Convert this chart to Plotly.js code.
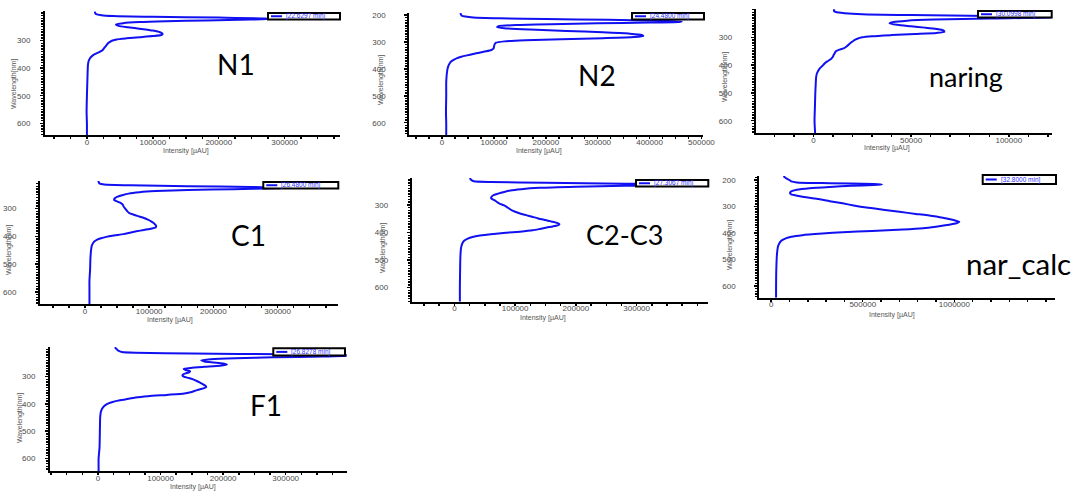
<!DOCTYPE html>
<html>
<head>
<meta charset="utf-8">
<script src="https://cdn.plot.ly/plotly-3.0.1.min.js"></script>
<style>html,body{margin:0;padding:0;background:#fff;}#chart{width:1074px;height:491px;}</style>
</head>
<body>
<div id="chart"></div>
<script>
// ---------------- DATA (wavelength [nm] vs intensity [µAU]) ----------------
const panelNames = ["N1", "N2", "naring", "C1", "C2-C3", "nar_calc", "F1"];
const legendLabels = ["[22.6297 min]", "[24.4800 min]", "[30.0998 min]", "[26.4800 min]", "[27.3067 min]", "[32.8000 min]", "[26.8278 min]"];

const wl_N1  = [195,200,204,208,211,214,217,220,222,224,227,230,233,237,242,247,252,258,264,270,276,280,284,288,292,296,300,305,310,316,322,328,334,340,346,352,358,365,375,390,420,460,500,560,600,643];
const int_N1 = [12000,12500,14000,22000,40000,100000,200000,270000,277000,250000,180000,120000,80000,55000,44000,48000,62000,82000,100000,111000,115000,113000,100000,80000,60000,45000,39000,35000,32000,30000,28000,26000,24000,20000,15000,10000,7000,4500,2500,1500,1000,500,0,-500,0,0];

const wl_N2  = [193,200,203,206,209,212,215,218,221,224,226,228,231,234,237,241,245,249,254,259,264,269,274,278,282,286,290,294,298,303,310,318,325,330,335,340,345,350,355,360,366,372,380,390,400,420,450,500,560,600,646];
const int_N2 = [35000,37000,38000,45000,60000,110000,200000,320000,420000,462000,455000,400000,300000,210000,150000,110000,106000,120000,170000,240000,310000,360000,385000,388000,370000,310000,230000,160000,120000,104000,101000,100000,99000,95000,85000,72000,60000,48000,37000,29000,23000,18000,14500,12000,10500,9000,8000,8000,7500,8000,8000];

const wl_naring  = [199,205,209,213,217,220,223,226,229,232,236,240,245,250,255,260,265,270,275,280,284,288,292,296,300,305,310,315,320,327,333,340,345,350,356,362,370,378,385,392,400,410,420,430,445,470,500,550,600,645];
const int_naring = [10800,10500,11500,16000,25000,50000,90000,125000,120000,90000,62000,48000,41000,39000,43000,50000,57000,63000,66500,67000,63000,52000,40000,30000,25000,22500,21000,20000,19000,18000,17000,15500,13000,11500,11000,10500,10000,9000,7500,6000,5000,3500,2500,1800,1400,1200,1000,800,600,900];

const wl_C1  = [200,205,210,213,216,219,222,225,227,230,233,237,241,246,252,258,264,269,274,280,286,292,298,304,310,316,322,328,334,340,346,352,358,364,368,372,377,382,387,392,397,402,407,412,418,425,435,450,480,520,560,600,645];
const int_C1 = [21000,21500,23000,30000,70000,160000,260000,315000,300000,230000,160000,110000,85000,68000,58000,50000,46000,45500,50000,56000,59000,60000,62000,64000,66000,69000,76000,84000,92000,98000,103000,107000,109500,111000,110000,104000,92000,80000,70000,60000,45000,33000,25000,19000,15000,12500,10500,9500,8500,8000,7000,7000,7000];

const wl_C2C3  = [203,205,210,214,217,220,223,226,228,231,234,238,243,248,253,259,265,271,276,281,286,291,296,301,307,313,319,325,331,337,343,349,355,361,366,370,374,378,382,387,392,397,401,406,411,416,422,430,440,455,480,520,600,651];
const int_C2C3 = [25000,26000,28000,32000,60000,150000,280000,350000,345000,280000,200000,140000,110000,92000,82000,72000,64000,61000,60500,64000,68000,71000,75000,81000,86000,90000,94000,100000,108000,118000,128000,138000,150000,162000,170000,173000,170000,162000,152000,141000,129000,108000,85000,60000,42000,30000,22000,16000,13000,11000,10000,9500,9000,9000];

const wl_narcalc  = [185,190,195,200,205,209,212,215,217,219,222,226,231,237,243,249,254,260,266,272,280,288,296,304,312,320,328,336,344,352,358,362,366,371,376,382,387,392,397,402,408,414,420,427,435,450,480,550,644];
const int_narcalc = [68000,75000,85000,100000,110000,140000,320000,560000,605000,560000,440000,320000,210000,140000,110000,103000,110000,150000,200000,260000,320000,390000,450000,520000,610000,700000,790000,880000,950000,1000000,1027000,1015000,990000,950000,900000,830000,720000,550000,390000,280000,170000,110000,80000,60000,48000,38000,32000,28000,27000];

const wl_F1  = [192,197,202,206,209,212,215,218,221,223,226,229,232,236,240,244,248,252,256,260,264,268,272,276,280,284,288,292,296,300,305,310,316,322,328,334,338,342,347,352,357,362,367,372,377,383,388,394,400,408,418,430,450,500,560,600,647];
const int_F1 = [27000,29000,31000,34000,38000,60000,150000,300000,400000,410000,360000,280000,220000,180000,165000,170000,185000,200000,206000,195000,170000,148000,137000,140000,147000,146000,140000,136000,135000,137000,145000,152000,158000,163000,168000,172000,173000,170000,162000,155000,148000,138000,110000,80000,60000,45000,32000,22000,15000,10000,6500,4500,3500,3000,2500,1000,1000];

const xTicks = [[0,100000,200000,300000],[0,100000,200000,300000,400000,500000],[0,50000,100000],[0,100000,200000,300000],[0,100000,200000,300000],[0,500000,1000000],[0,100000,200000,300000]];
const yTicks = [[300,400,500,600],[200,300,400,500,600],[300,400,500,600],[300,400,500,600],[300,400,500,600],[200,300,400,500,600],[300,400,500,600]];

const series = [[wl_N1,int_N1],[wl_N2,int_N2],[wl_naring,int_naring],[wl_C1,int_C1],[wl_C2C3,int_C2C3],[wl_narcalc,int_narcalc],[wl_F1,int_F1]];

// ---------------- LAYOUT GEOMETRY (pixels) ----------------
const W = 1074, H = 491;
const geo = [
  {L:45,    R:340,   T:11,  B:135,   xr:[-63600,384000],  yr:[642.5,193],  xminor:25000,  sto:8,  title:[236,64],  tsize:28, ytitle:[14,84],   xtitle:[186,151],  leg:[268,13,340,19.5]},
  {L:409.3, R:703,   T:13,  B:135,   xr:[-63200,503000],  yr:[645.7,192.6],xminor:25000,  sto:17, title:[597,75],  tsize:28, ytitle:[381,80],  xtitle:[539,151],  leg:[632,13,704,19.5]},
  {L:755.7, R:1052,  T:9,   B:133.3, xr:[-29500,122100],  yr:[645.3,198],  xminor:10000,  sto:17, title:[966,76],  tsize:27, ytitle:[725,77],  xtitle:[887,148],  leg:[978,11,1051.7,17.5]},
  {L:40,    R:338,   T:181, B:304,   xr:[-70000,394000],  yr:[644,200.5],  xminor:25000,  sto:17, title:[248,235], tsize:28, ytitle:[9,250],   xtitle:[170,320],  leg:[263.3,182,338.3,188.5]},
  {L:411.7, R:708.3, T:178, B:301.7, xr:[-70300,418000],  yr:[650.8,202.5],xminor:25000,  sto:17, title:[624,235], tsize:27, ytitle:[383,248], xtitle:[543,318],  leg:[636,180,708.3,186.5]},
  {L:759.3, R:1055,  T:176, B:297.7, xr:[-64400,1549000], yr:[644,184.9],  xminor:100000, sto:17, title:[1018,263],tsize:29.5, ytitle:[730,245], xtitle:[892,315],  leg:[982.7,175,1056,184]},
  {L:50,    R:346.7, T:347, B:471,   xr:[-76700,397500],  yr:[646.7,191],  xminor:25000,  sto:8,  title:[266,405], tsize:28, ytitle:[20,418],  xtitle:[193,487],  leg:[273.3,348.3,345,355.5]}
];

const px = x => x / W;
const py = y => 1 - y / H;

// evenly spaced minor tick positions (axis decoration only)
function minorVals(lo, hi, step) {
  const out = [];
  const start = Math.ceil(lo / step) * step;
  for (let v = start; v <= hi; v += step) out.push(v);
  return out;
}

const lineBlue = '#1010f0';
const tickFont = {family:'Liberation Sans, Arial, sans-serif', size:8, color:'#4a4a4a'};
const labFont  = {family:'Liberation Sans, Arial, sans-serif', size:7, color:'#555555'};

const data = [];
const layout = {
  width: W, height: H,
  margin: {l:0, r:0, t:0, b:0},
  paper_bgcolor: '#ffffff', plot_bgcolor: '#ffffff',
  showlegend: false,
  annotations: [], shapes: []
};

geo.forEach((g, i) => {
  const n = i === 0 ? '' : String(i + 1);
  const xa = 'xaxis' + n, ya = 'yaxis' + n;
  data.push({
    type: 'scatter', mode: 'lines',
    x: series[i][1], y: series[i][0],
    xaxis: 'x' + n, yaxis: 'y' + n,
    line: {color: lineBlue, width: 2, shape: 'spline', smoothing: 0.6},
    hoverinfo: 'skip', name: panelNames[i]
  });
  const xlo = Math.min(g.xr[0], g.xr[1]), xhi = Math.max(g.xr[0], g.xr[1]);
  const ylo = Math.min(g.yr[0], g.yr[1]), yhi = Math.max(g.yr[0], g.yr[1]);
  layout[xa] = {
    domain: [px(g.L), px(g.R)], anchor: 'y' + n,
    range: g.xr, showline: true, linecolor: '#000', linewidth: 2,
    showgrid: false, zeroline: false,
    tickmode: 'array', tickvals: xTicks[i], ticktext: xTicks[i].map(String),
    ticks: 'outside', ticklen: 2, tickwidth: 1.5, tickcolor: '#000',
    tickfont: tickFont, ticklabelstandoff: -4,
    minor: {tickmode: 'array', tickvals: minorVals(xlo, xhi, g.xminor), ticks: 'outside', ticklen: 2, tickwidth: 1.5, tickcolor: '#000', showgrid: false},
    fixedrange: true
  };
  layout[ya] = {
    domain: [py(g.B), py(g.T)], anchor: 'x' + n,
    range: g.yr, showline: true, linecolor: '#000', linewidth: 2,
    showgrid: false, zeroline: false,
    tickmode: 'array', tickvals: yTicks[i], ticktext: yTicks[i].map(String),
    ticks: 'outside', ticklen: 3, tickwidth: 1.5, tickcolor: '#000',
    tickfont: tickFont, ticklabelstandoff: g.sto,
    minor: {tickmode: 'array', tickvals: minorVals(ylo, yhi, 10), ticks: 'outside', ticklen: 2, tickwidth: 1.5, tickcolor: '#000', showgrid: false},
    fixedrange: true
  };
  // panel name
  layout.annotations.push({
    xref: 'paper', yref: 'paper', x: px(g.title[0]), y: py(g.title[1]),
    xanchor: 'center', yanchor: 'middle', showarrow: false,
    text: panelNames[i], font: {family: 'Lato, Open Sans, sans-serif', size: g.tsize, color: '#000'}
  });
  // axis titles
  layout.annotations.push({
    xref: 'paper', yref: 'paper', x: px(g.xtitle[0]), y: py(g.xtitle[1]),
    xanchor: 'center', yanchor: 'middle', showarrow: false,
    text: 'Intensity [µAU]', font: labFont
  });
  layout.annotations.push({
    xref: 'paper', yref: 'paper', x: px(g.ytitle[0]), y: py(g.ytitle[1]),
    xanchor: 'center', yanchor: 'middle', showarrow: false, textangle: -90,
    text: 'Wavelength[nm]', font: labFont
  });
  // legend box
  const [lx0, ly0, lx1, ly1] = g.leg;
  layout.shapes.push({
    type: 'rect', xref: 'paper', yref: 'paper', layer: 'above',
    x0: px(lx0), x1: px(lx1), y0: py(ly1), y1: py(ly0),
    line: {color: '#000', width: 2}, fillcolor: '#ffffff'
  });
  const ym = (ly0 + ly1) / 2;
  layout.shapes.push({
    type: 'line', xref: 'paper', yref: 'paper', layer: 'above',
    x0: px(lx0 + 3), x1: px(lx0 + 14), y0: py(ym), y1: py(ym),
    line: {color: lineBlue, width: 2}
  });
  layout.annotations.push({
    xref: 'paper', yref: 'paper', x: px(lx0 + 16), y: py(ym),
    xanchor: 'left', yanchor: 'middle', showarrow: false,
    text: legendLabels[i], font: {family: 'Liberation Sans, Arial, sans-serif', size: 6.5, color: '#3030ff'}
  });
});

Plotly.newPlot('chart', data, layout, {staticPlot: true, displayModeBar: false});
</script>
</body>
</html>
